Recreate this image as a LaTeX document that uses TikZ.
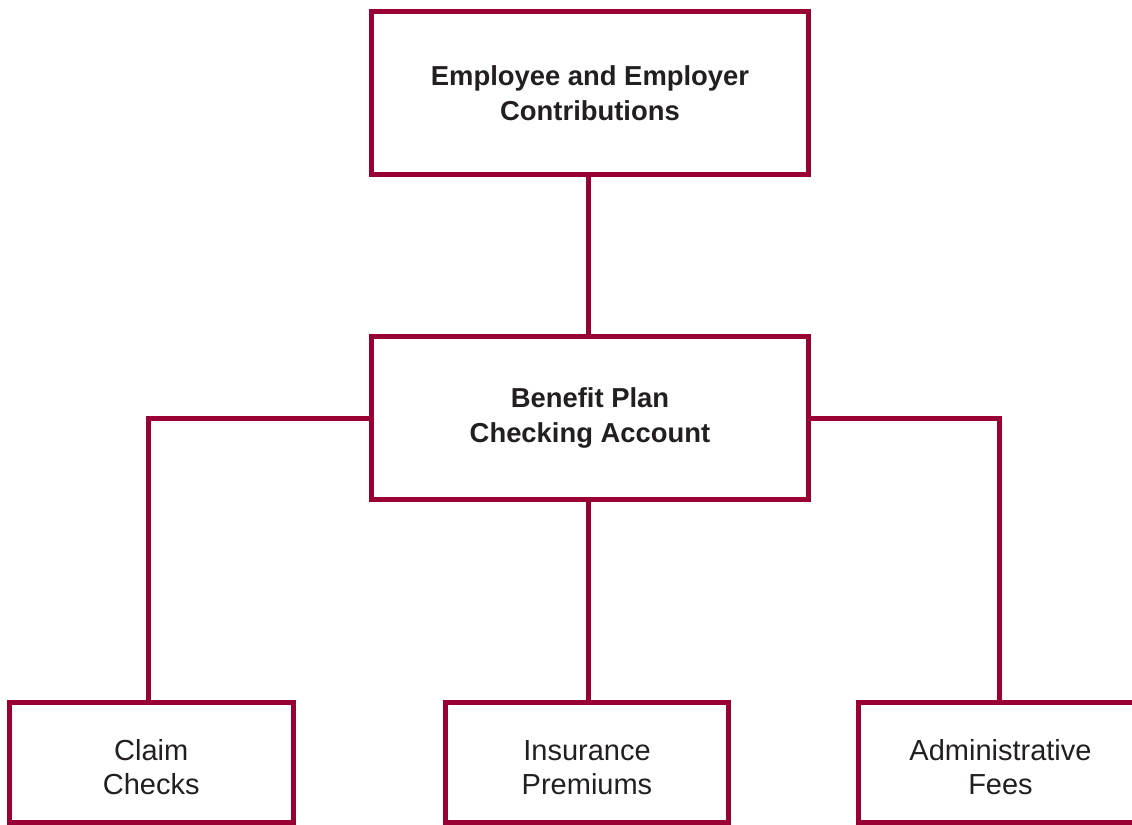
\documentclass[tikz,border=0pt]{standalone}
\usepackage{fontspec}
\setmainfont{Liberation Sans}
\definecolor{planred}{HTML}{990033}
\definecolor{ink}{HTML}{231F20}
\newcommand{\lift}{\rule{0pt}{15.6pt}}% taller first line, sets text a bit lower

\begin{document}
\begin{tikzpicture}[x=0.5pt,y=-0.5pt,
    box/.style={draw=planred,line width=2.5pt,fill=white,align=center,
      inner sep=0pt,text=ink},
    fundbox/.style={box,minimum width=218.5pt,minimum height=81.5pt,
      font=\bfseries\fontsize{13.7}{17.5}\selectfont},
    usebox/.style={box,minimum width=141.75pt,minimum height=60pt,
      font=\fontsize{14.5}{17}\selectfont},
    link/.style={draw=planred,line width=2.5pt}]
    \useasboundingbox (0,0) rectangle (1132,825);
    \clip (0,0) rectangle (1132,825);
    % ---- money in ----
    \node[fundbox] (contrib) at (590,93)  {Employee and Employer\\Contributions};
    \node[fundbox] (acct)    at (590,418) {Benefit Plan\\Checking Account};
    % ---- money out (right box runs off the page) ----
    \node[usebox] (claims)   at (151.25,762) {\lift Claim\\Checks};
    \node[usebox] (premiums) at (587,762)    {\lift Insurance\\Premiums};
    \node[usebox] (fees)     at (1000.5,762) {\lift Administrative\\Fees};
    % ---- links ----
    \draw[link] ([xshift=-1pt]contrib.south) -- ([xshift=-1pt]acct.north);
    \draw[link] (acct.west) -| ([xshift=-1.5pt]claims.north);
    \draw[link] ([xshift=0.5pt]premiums.north) -- ([xshift=0.5pt]premiums.north |- acct.south);
    \draw[link] (acct.east) -| ([xshift=-0.75pt]fees.north);
\end{tikzpicture}
\end{document}
